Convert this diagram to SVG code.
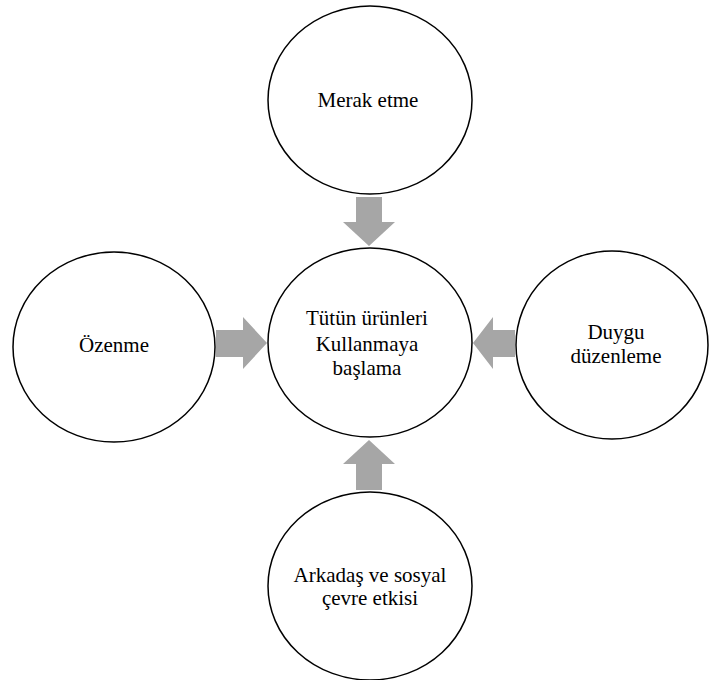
<svg xmlns="http://www.w3.org/2000/svg" width="709" height="680" viewBox="0 0 709 680">
<defs>
<style>
.n{fill:#fff;stroke:#000;stroke-width:1.5}
.a{fill:#a6a6a6;stroke:none}
</style>
</defs>
<rect width="709" height="680" fill="#fff"/>
<g id="connectors">
<polygon class="a" points="356,197 382,197 382,222 395,222 369,246 343,222 356,222"/>
<polygon class="a" points="216,330 243,330 243,317 267,343 243,369 243,357 216,357"/>
<polygon class="a" points="515,330 493,330 493,317 473,343 493,369 493,357 515,357"/>
<polygon class="a" points="356,490 382,490 382,464 395,464 369,440 343,464 356,464"/>
</g>
<g id="merak">
<ellipse class="n" cx="370" cy="100" rx="102" ry="94"/>
<text x="368" y="107" font-family="Liberation Serif" font-size="21" text-anchor="middle">Merak etme</text>
</g>
<g id="center">
<ellipse class="n" cx="370" cy="342.5" rx="102" ry="94.5"/>
<text x="367" y="325" font-family="Liberation Serif" font-size="21" text-anchor="middle">Tütün ürünleri</text>
<text x="367" y="351" font-family="Liberation Serif" font-size="21" text-anchor="middle">Kullanmaya</text>
<text x="367" y="375" font-family="Liberation Serif" font-size="21" text-anchor="middle">başlama</text>
</g>
<g id="ozenme">
<ellipse class="n" cx="114" cy="347" rx="101" ry="95"/>
<text x="114" y="352" font-family="Liberation Serif" font-size="21" text-anchor="middle">Özenme</text>
</g>
<g id="duygu">
<ellipse class="n" cx="612" cy="345" rx="96" ry="94"/>
<text x="616" y="339" font-family="Liberation Serif" font-size="21" text-anchor="middle">Duygu</text>
<text x="616" y="363" font-family="Liberation Serif" font-size="21" text-anchor="middle">düzenleme</text>
</g>
<g id="arkadas">
<ellipse class="n" cx="370" cy="586" rx="102" ry="94"/>
<text x="370" y="582" font-family="Liberation Serif" font-size="21" text-anchor="middle">Arkadaş ve sosyal</text>
<text x="370" y="605" font-family="Liberation Serif" font-size="21" text-anchor="middle">çevre etkisi</text>
</g>
</svg>
